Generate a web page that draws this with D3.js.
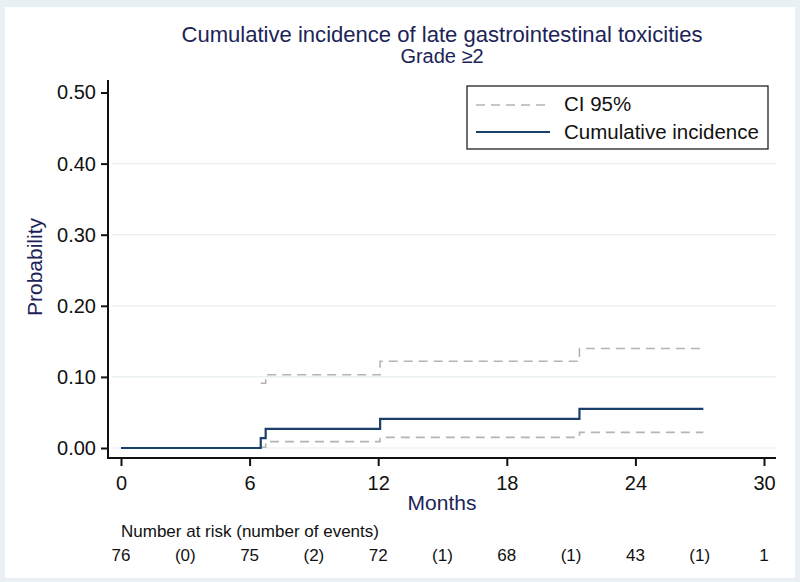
<!DOCTYPE html>
<html lang="en">
<head>
  <meta charset="UTF-8" />
  <title>Cumulative incidence</title>
  <script src="https://cdn.jsdelivr.net/npm/d3@7"></script>
  <style>
    body {
      margin: 0;
      background-color: #e9f0f3;
      font-family: Arial, "Liberation Sans", sans-serif;
    }
    svg { display: block; }
  </style>
</head>
<body>
  <div id="chart"></div>

  <script>
    // step curve data (months, probability)
    const times = [0, 6.52, 6.75, 12.09, 21.39];
    const endTime = 27.17;
    const incidence = [0, 0.014, 0.027, 0.041, 0.055];
    const ciLower = [null, 0.001, 0.009, 0.015, 0.022];
    const ciUpper = [null, 0.091, 0.103, 0.122, 0.140];

    const xTicks = [0, 6, 12, 18, 24, 30];
    const yTicks = [0, 0.1, 0.2, 0.3, 0.4, 0.5];

    // number at risk table
    const riskMonths = [0, 6, 12, 18, 24, 30];
    const atRisk = [76, 75, 72, 68, 43, 1];
    const eventMonths = [3, 9, 15, 21, 27];
    const events = ["(0)", "(2)", "(1)", "(1)", "(1)"];

    const width = 800;
    const height = 582;
    const navy = "#1a3f6b";
    const textNavy = "#1c2457";

    const svg = d3.select("#chart")
      .append("svg")
      .attr("width", width)
      .attr("height", height);

    // white panel inside light frame
    svg.append("rect")
      .attr("x", 5).attr("y", 7)
      .attr("width", 790).attr("height", 571)
      .attr("fill", "white");

    const xScale = d3.scaleLinear().domain([0, 30]).range([121, 764]);
    const yScale = d3.scaleLinear().domain([0, 0.5]).range([448, 92.5]);

    // gridlines
    svg.append("g")
      .selectAll("line")
      .data(yTicks.filter(d => d < 0.5))
      .enter()
      .append("line")
      .attr("x1", 112).attr("x2", 776)
      .attr("y1", d => yScale(d)).attr("y2", d => yScale(d))
      .attr("stroke", "#e6edf1")
      .attr("stroke-width", 1.2);

    // axes
    const xAxis = d3.axisBottom(xScale).tickValues(xTicks).tickSize(8).tickPadding(10).tickSizeOuter(0);
    const yAxis = d3.axisLeft(yScale).tickValues(yTicks).tickSize(7).tickPadding(5)
      .tickFormat(d3.format(".2f")).tickSizeOuter(0);

    const gx = svg.append("g")
      .attr("transform", "translate(0, 458)")
      .call(xAxis);
    gx.select(".domain").remove();
    gx.append("line")
      .attr("x1", 108).attr("x2", 776)
      .attr("y1", 0).attr("y2", 0)
      .attr("stroke", "#111").attr("stroke-width", 2);
    gx.selectAll(".tick line").attr("stroke", "#111").attr("stroke-width", 2);
    gx.selectAll(".tick text")
      .attr("font-size", 20)
      .attr("font-family", "Arial, 'Liberation Sans', sans-serif")
      .attr("fill", "#111");

    const gy = svg.append("g")
      .attr("transform", "translate(108, 0)")
      .call(yAxis);
    gy.select(".domain").remove();
    gy.append("line")
      .attr("x1", 0).attr("x2", 0)
      .attr("y1", 80).attr("y2", 459)
      .attr("stroke", "#111").attr("stroke-width", 2);
    gy.selectAll(".tick line").attr("stroke", "#111").attr("stroke-width", 2);
    gy.selectAll(".tick text")
      .attr("font-size", 20)
      .attr("font-family", "Arial, 'Liberation Sans', sans-serif")
      .attr("fill", "#111");

    // curves
    const toPoints = vals => {
      const pts = [];
      vals.forEach((v, i) => { if (v !== null) pts.push([times[i], v]); });
      pts.push([endTime, pts[pts.length - 1][1]]);
      return pts;
    };

    const line = d3.line()
      .x(d => xScale(d[0]))
      .y(d => yScale(d[1]))
      .curve(d3.curveStepAfter);

    [ciUpper, ciLower].forEach(vals => {
      svg.append("path")
        .datum(toPoints(vals))
        .attr("d", line)
        .attr("fill", "none")
        .attr("stroke", "#b4b4b4")
        .attr("stroke-width", 1.6)
        .attr("stroke-dasharray", "9,6");
    });

    svg.append("path")
      .datum(toPoints(incidence))
      .attr("d", line)
      .attr("fill", "none")
      .attr("stroke", navy)
      .attr("stroke-width", 2.2);

    // titles
    svg.append("text")
      .attr("x", 442).attr("y", 42)
      .attr("text-anchor", "middle")
      .attr("font-size", 22)
      .attr("fill", textNavy)
      .attr("textLength", 521)
      .attr("lengthAdjust", "spacingAndGlyphs")
      .text("Cumulative incidence of late gastrointestinal toxicities");

    svg.append("text")
      .attr("x", 442).attr("y", 63)
      .attr("text-anchor", "middle")
      .attr("font-size", 20)
      .attr("fill", textNavy)
      .text("Grade \u22652");

    svg.append("text")
      .attr("transform", "translate(42, 267) rotate(-90)")
      .attr("text-anchor", "middle")
      .attr("font-size", 21)
      .attr("fill", textNavy)
      .text("Probability");

    svg.append("text")
      .attr("x", 442).attr("y", 510)
      .attr("text-anchor", "middle")
      .attr("font-size", 21)
      .attr("fill", textNavy)
      .text("Months");

    // legend
    const legend = svg.append("g");
    legend.append("rect")
      .attr("x", 467).attr("y", 86)
      .attr("width", 301).attr("height", 63)
      .attr("fill", "white")
      .attr("stroke", "#222")
      .attr("stroke-width", 1.3);
    legend.append("line")
      .attr("x1", 476).attr("x2", 550)
      .attr("y1", 105).attr("y2", 105)
      .attr("stroke", "#b4b4b4")
      .attr("stroke-width", 1.6)
      .attr("stroke-dasharray", "9,6");
    legend.append("text")
      .attr("x", 564).attr("y", 111)
      .attr("font-size", 20.5)
      .attr("fill", "#111")
      .text("CI 95%");
    legend.append("line")
      .attr("x1", 476).attr("x2", 550)
      .attr("y1", 132).attr("y2", 132)
      .attr("stroke", navy)
      .attr("stroke-width", 2.2);
    legend.append("text")
      .attr("x", 564).attr("y", 139)
      .attr("font-size", 20.5)
      .attr("fill", "#111")
      .text("Cumulative incidence");

    // number at risk table
    svg.append("text")
      .attr("x", 121).attr("y", 537)
      .attr("font-size", 17)
      .attr("fill", "#111")
      .text("Number at risk (number of events)");

    svg.append("g")
      .selectAll("text")
      .data(riskMonths)
      .enter()
      .append("text")
      .attr("x", d => xScale(d))
      .attr("y", 561)
      .attr("text-anchor", "middle")
      .attr("font-size", 17)
      .attr("fill", "#111")
      .text((d, i) => atRisk[i]);

    svg.append("g")
      .selectAll("text")
      .data(eventMonths)
      .enter()
      .append("text")
      .attr("x", d => xScale(d))
      .attr("y", 561)
      .attr("text-anchor", "middle")
      .attr("font-size", 17)
      .attr("fill", "#111")
      .text((d, i) => events[i]);
  </script>
</body>
</html>
